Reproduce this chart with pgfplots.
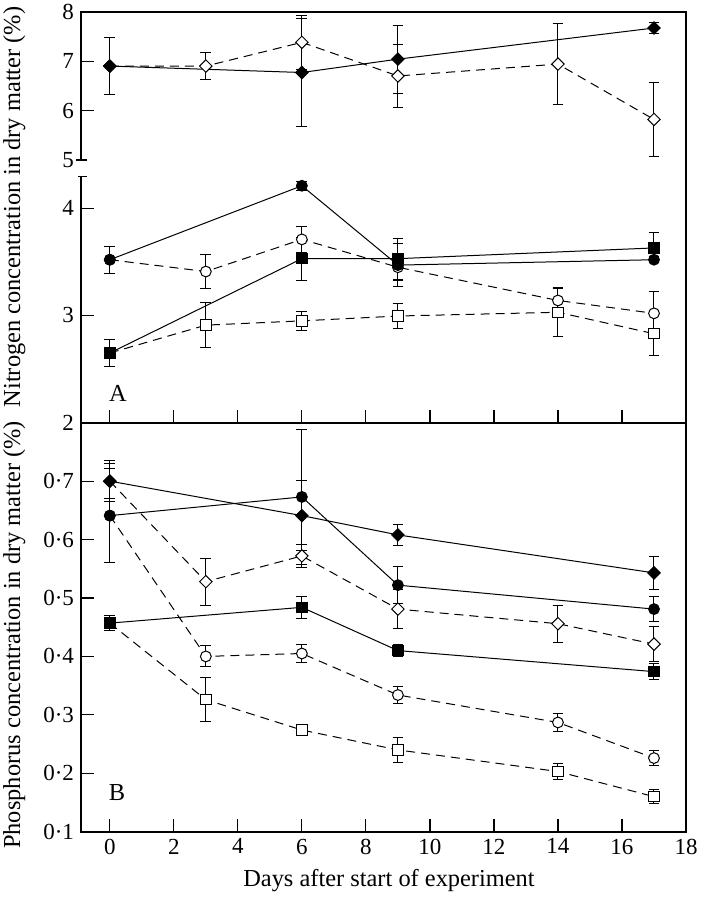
\documentclass[border=0pt]{standalone}
\usepackage{pgfplots}
\pgfplotsset{compat=1.18}
\usepackage{fontspec}
\setmainfont{Liberation Serif}
\begin{document}
\begin{tikzpicture}
\useasboundingbox (0,0) rectangle (355pt,-449.5pt);
\pgfplotsset{
  base/.style={
    scale only axis, width=302.5pt,
    xmin=-0.9, xmax=18,
    tick align=inside, major tick length=6.5pt,
    tick style={line width=0.6pt, black},
    ytick pos=left, xtick pos=bottom,
    /pgf/number format/assume math mode=true,
    tick label style={font=\fontsize{11.5}{13}\selectfont},
    clip=false,
  },
  ebar/.style={error bars/.cd, y dir=both, y explicit,
    error bar style={solid, line width=0.5pt},
    error mark options={rotate=90, mark size=2.7pt, solid, line width=0.5pt}},
  fd/.style={black, solid, line width=0.5pt, mark=square*, mark size=2.2pt, mark options={rotate=45, fill=black, solid}, ebar},
  od/.style={black, dash pattern=on 4.5pt off 3pt, line width=0.5pt, mark=square*, mark size=2.2pt, mark options={rotate=45, fill=white, solid}, ebar},
  fc/.style={black, solid, line width=0.5pt, mark=*, mark size=2.7pt, mark options={fill=black, solid}, ebar},
  oc/.style={black, dash pattern=on 4.5pt off 3pt, line width=0.5pt, mark=*, mark size=2.7pt, mark options={fill=white, solid}, ebar},
  fs/.style={black, solid, line width=0.5pt, mark=square*, mark size=2.6pt, mark options={fill=black, solid}, ebar},
  os/.style={black, dash pattern=on 4.5pt off 3pt, line width=0.5pt, mark=square*, mark size=2.6pt, mark options={fill=white, solid}, ebar},
}
% ---------- Panel A, upper segment (5-8) ----------
\begin{axis}[base, name=upper, anchor=south west, at={(40.5pt,-80pt)},
  height=74.15pt, ymin=5, ymax=8, ytick={6,7,8},
  extra y ticks={5}, extra y tick style={tick style={draw=none}},
  xtick=\empty, axis line style={draw=none}]
\addplot[od] coordinates {(0,6.9) +- (0,0.57) (3,6.9) +- (0,0.28) (6,7.38) +- (0,0.55) (9,6.70) +- (0,0.63) (14,6.94) +- (0,0.82) (17,5.82) +- (0,0.75)};
\addplot[fd] coordinates {(0,6.9) +- (0,0.57) (6,6.77) +- (0,1.09) (9,7.04) +- (0,0.69) (17,7.67) +- (0,0.12)};
\end{axis}
% ---------- Panel A, lower segment (2-4.3) ----------
\begin{axis}[base, name=lower, anchor=south west, at={(40.5pt,-211.35pt)},
  height=123.3pt, ymin=2, ymax=4.3, ytick={2,3,4},
  xtick={0,2,...,16}, xticklabels=\empty, axis line style={draw=none}]
\addplot[os] coordinates {(0,2.65) +- (0,0.13) (3,2.91) +- (0,0.21) (6,2.95) +- (0,0.09) (9,2.995) +- (0,0.12) (14,3.03) +- (0,0.23) (17,2.83) +- (0,0.2)};
\addplot[oc] coordinates {(0,3.52) +- (0,0.125) (3,3.41) +- (0,0.16) (6,3.71) +- (0,0.12) (9,3.45) +- (0,0.12) (14,3.14) +- (0,0.11) (17,3.02) +- (0,0.2)};
\addplot[fs] coordinates {(0,2.65) +- (0,0.13) (6,3.53) +- (0,0.2) (9,3.53) +- (0,0.19) (17,3.63) +- (0,0.14)};
\addplot[fc] coordinates {(0,3.52) +- (0,0.125) (6,4.21) +- (0,0.04) (9,3.47) +- (0,0.2) (17,3.52) +- (0,0.03)};
\end{axis}
% ---------- Panel B ----------
\begin{axis}[base, name=bottom, anchor=south west, at={(40.5pt,-415.85pt)},
  height=204.5pt, ymin=0.1, ymax=0.8,
  ytick={0.1,0.2,0.3,0.4,0.5,0.6,0.7},
  yticklabels={0·1,0·2,0·3,0·4,0·5,0·6,0·7},
  xtick={0,2,...,18}, axis line style={line width=1pt}]
\addplot[os] coordinates {(0,0.457) +- (0,0.013) (3,0.326) +- (0,0.038) (6,0.274) +- (0,0.008) (9,0.24) +- (0,0.022) (14,0.203) +- (0,0.014) (17,0.16) +- (0,0.012)};
\addplot[oc] coordinates {(0,0.641) +- (0,0.08) (3,0.40) +- (0,0.018) (6,0.405) +- (0,0.015) (9,0.334) +- (0,0.014) (14,0.287) +- (0,0.015) (17,0.226) +- (0,0.013)};
\addplot[od] coordinates {(0,0.70) +- (0,0.03) (3,0.528) +- (0,0.04) (6,0.572) +- (0,0.02) (9,0.481) +- (0,0.033) (14,0.456) +- (0,0.032) (17,0.421) +- (0,0.03)};
\addplot[fs] coordinates {(0,0.457) +- (0,0.013) (6,0.484) +- (0,0.019) (9,0.41) +- (0,0.01) (17,0.374) +- (0,0.014)};
\addplot[fc] coordinates {(0,0.641) +- (0,0.08) (6,0.673) +- (0,0.115) (9,0.522) +- (0,0.032) (17,0.481) +- (0,0.021)};
\addplot[fd] coordinates {(0,0.70) +- (0,0.035) (6,0.641) +- (0,0.06) (9,0.608) +- (0,0.018) (17,0.543) +- (0,0.028)};
\end{axis}
% frame of panel A with broken left axis
\draw[line width=1pt] (upper.south west) -- (upper.north west) -- (upper.north east) -- (lower.south east);
\draw[line width=1pt] (lower.north west) -- (lower.south west);
\draw[line width=0.6pt] ([xshift=-2.5pt]upper.south west) -- ([xshift=3pt]upper.south west);
\draw[line width=0.6pt] ([xshift=-1.5pt]lower.north west) -- ([xshift=3pt]lower.north west);
% labels
\node[rotate=90, anchor=base, font=\fontsize{12.2}{14}\selectfont] at (10pt,-103.5pt) {Nitrogen concentration in dry matter (\%)};
\node[rotate=90, anchor=base, font=\fontsize{12.2}{14}\selectfont] at (10pt,-317.5pt) {Phosphorus concentration in dry matter (\%)};
\node[anchor=base, font=\fontsize{12.2}{14}\selectfont] at (194.5pt,-443.3pt) {Days after start of experiment};
\node[anchor=base, font=\fontsize{12.2}{14}\selectfont] at (59pt,-200.85pt) {A};
\node[anchor=base, font=\fontsize{12.2}{14}\selectfont] at (58.5pt,-400pt) {B};
\end{tikzpicture}
\end{document}
